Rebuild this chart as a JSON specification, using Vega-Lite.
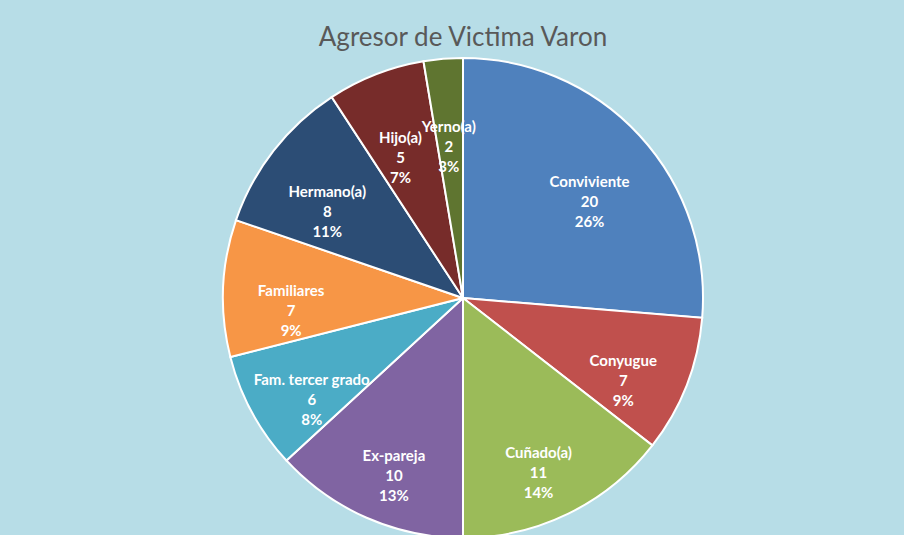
{
  "$schema": "https://vega.github.io/schema/vega-lite/v6.json",
  "width": 904,
  "height": 535,
  "autosize": {"type": "fit", "contains": "padding"},
  "padding": {"left": 22, "top": 32, "right": 0, "bottom": 0},
  "background": "#b7dde7",
  "title": {
    "text": "Agresor de Victima Varon",
    "font": "Lato",
    "fontSize": 26,
    "fontWeight": "normal",
    "color": "#595959",
    "anchor": "middle",
    "offset": 3
  },
  "data": {
    "values": [
      {"category": "Conviviente", "value": 20},
      {"category": "Conyugue", "value": 7},
      {"category": "Cuñado(a)", "value": 11},
      {"category": "Ex-pareja", "value": 10},
      {"category": "Fam. tercer grado", "value": 6},
      {"category": "Familiares", "value": 7},
      {"category": "Hermano(a)", "value": 8},
      {"category": "Hijo(a)", "value": 5},
      {"category": "Yerno(a)", "value": 2}
    ]
  },
  "transform": [
    {"joinaggregate": [{"op": "sum", "field": "value", "as": "total"}]},
    {"calculate": "datum.category + '\\n' + datum.value + '\\n' + round(100 * datum.value / datum.total) + '%'", "as": "label"}
  ],
  "encoding": {
    "theta": {"field": "value", "type": "quantitative", "stack": true},
    "order": {"field": "category", "sort": "ascending"}
  },
  "layer": [
    {
      "mark": {"type": "arc", "radius": 240, "stroke": "white", "strokeWidth": 2},
      "encoding": {
        "color": {
          "field": "category",
          "type": "nominal",
          "sort": null,
          "legend": null,
          "scale": {
            "domain": ["Conviviente", "Conyugue", "Cuñado(a)", "Ex-pareja", "Fam. tercer grado", "Familiares", "Hermano(a)", "Hijo(a)", "Yerno(a)"],
            "range": ["#4f81bd", "#c0504d", "#9bbb59", "#8064a2", "#4bacc6", "#f79646", "#2c4d75", "#772c2a", "#5f7530"]
          }
        }
      }
    },
    {
      "mark": {
        "type": "text",
        "radius": 172,
        "font": "Lato",
        "fontSize": 15,
        "fontWeight": "bold",
        "color": "white",
        "lineBreak": "\n",
        "lineHeight": 20,
        "align": "center",
        "baseline": "middle"
      },
      "encoding": {
        "text": {"field": "label", "type": "nominal"}
      }
    }
  ]
}
